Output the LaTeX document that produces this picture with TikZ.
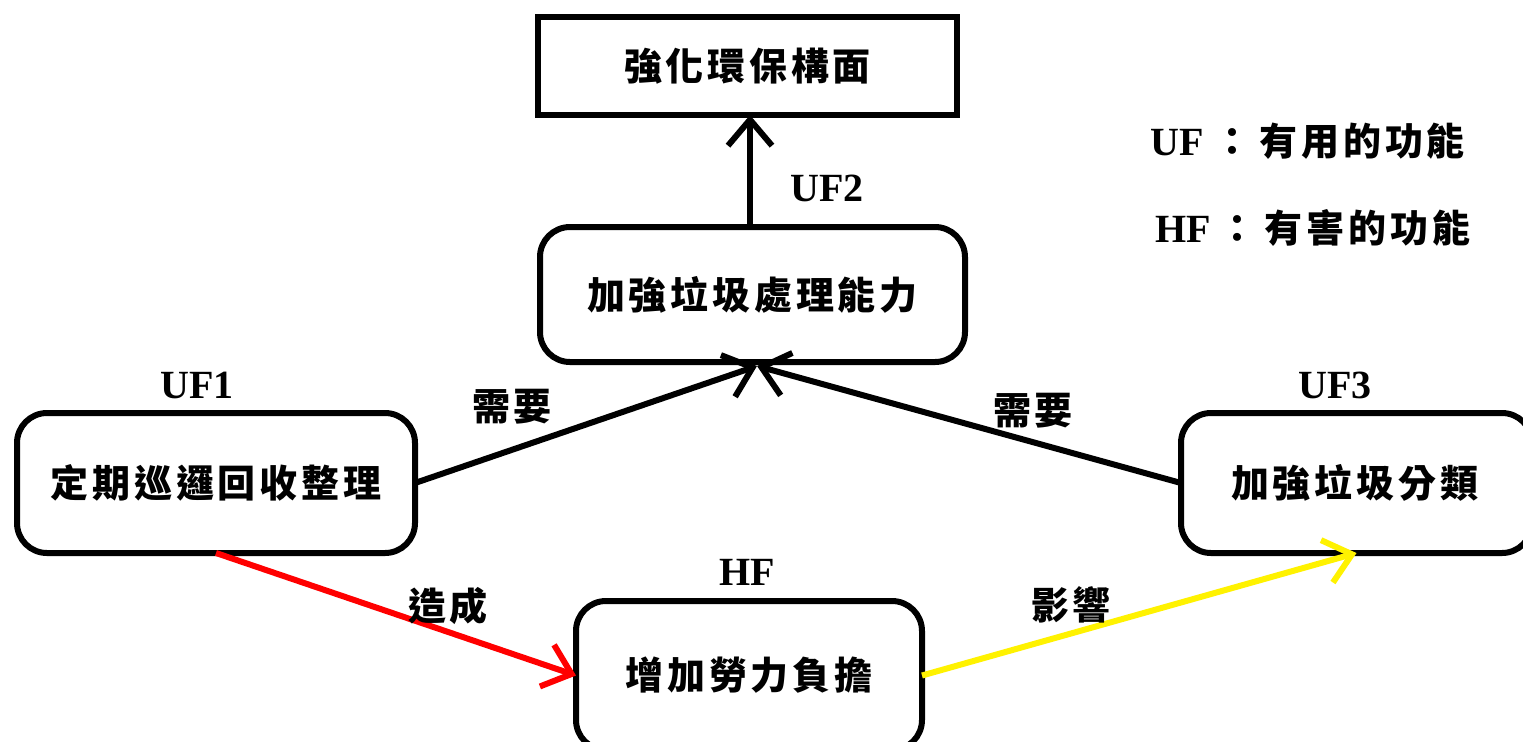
\documentclass[tikz,border=0pt]{standalone}
\usepackage{fontspec}
\usetikzlibrary{arrows.meta}
\setmainfont{Liberation Serif}
\newfontfamily\cjk{Noto Sans CJK TC}[LetterSpace=10]
\newcommand\cjkf{\cjk\bfseries\fontsize{19pt}{22pt}\selectfont}
\newcommand\latf{\rmfamily\bfseries\fontsize{20pt}{22pt}\selectfont}
\begin{document}
\begin{tikzpicture}[x=0.5pt,y=-0.5pt,
  box/.style={draw, line width=3pt, inner sep=0pt, outer sep=0pt, font=\cjkf, align=center},
  rbox/.style={box, rounded corners=15pt},
  arr/.style={line width=3pt, -{Straight Barb[length=13pt,width=22pt]}},
  tag/.style={font=\latf, inner sep=0pt},
  lab/.style={font=\cjkf, inner sep=0pt}]
\clip (0,0) rectangle (1523,741);
\fill[white] (0,0) rectangle (1523,741);
% boxes
\node[box, minimum width=209.5pt, minimum height=49pt] (top) at (747.5,66) {強化環保構面};
\node[rbox, minimum width=212.5pt, minimum height=67.5pt] (mid) at (752.5,294.5) {加強垃圾處理能力};
\node[rbox, minimum width=199pt, minimum height=70pt] (uf1) at (216,483) {定期巡邏回收整理};
\node[rbox, minimum width=175.5pt, minimum height=70pt] (uf3) at (1356.5,483) {\hspace*{-6pt}加強垃圾分類\hspace*{-4pt}};
\node[rbox, minimum width=173pt, minimum height=74.5pt] (hf) at (749,675.5) {增加勞力負擔};
\coordinate (mt) at (757,366);
% tags
\node[tag] (t2) at (827,188) {UF2};
\node[tag] (t1) at (197,385) {UF1};
\node[tag] (t3) at (1335,385) {UF3};
\node[tag] (th) at (747,572) {HF};
% legend
\node[anchor=west, inner sep=0pt] (leg1) at (1150,141) {{\latf UF}\hspace{5pt}{\cjkf ：\hspace{4pt}有用的功能}};
\node[anchor=west, inner sep=0pt] (leg2) at (1155,228) {{\latf HF}\hspace{4pt}{\cjkf ：\hspace{4pt}有害的功能}};
% arrows
\draw[arr] (mid.north -| 750,0) -- (top.south -| 750,0);
\draw[arr] (uf1.east) -- (mt);
\draw[arr] (uf3.west) -- (mt);
\draw[arr, red] (uf1.south) -- (hf.west);
\draw[arr, yellow] (hf.east) -- (uf3.south);
% labels
\node[lab] (l1) at (512,407) {需要};
\node[lab] (l2) at (1033,411) {需要};
\node[lab] (l3) at (448,606) {造成};
\node[lab] (l4) at (1071,605) {影響};
\end{tikzpicture}
\end{document}
